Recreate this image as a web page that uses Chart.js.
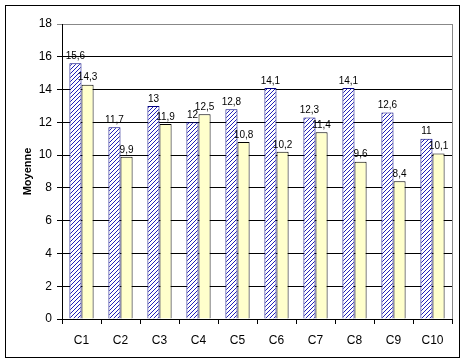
<!DOCTYPE html>
<html lang="fr">
<head>
<meta charset="UTF-8">
<title>Moyenne par classe</title>
<script src="https://cdn.jsdelivr.net/npm/chart.js"></script>
<style>
    html, body { margin: 0; padding: 0; background: #fff; }
    .wrap { width: 465px; height: 362px; position: relative; }
</style>
</head>
<body>
<div class="wrap"><canvas id="chart" width="465" height="362"></canvas></div>
<script>
const categories = ['C1', 'C2', 'C3', 'C4', 'C5', 'C6', 'C7', 'C8', 'C9', 'C10'];
const seriesA = [15.6, 11.7, 13, 12, 12.8, 14.1, 12.3, 14.1, 12.6, 11];
const seriesB = [14.3, 9.9, 11.9, 12.5, 10.8, 10.2, 11.4, 9.6, 8.4, 10.1];
const yTicks = [0, 2, 4, 6, 8, 10, 12, 14, 16, 18];

// hatch pattern for the first series
function makeHatch() {
    const c = document.createElement('canvas');
    c.width = 4; c.height = 4;
    const g = c.getContext('2d');
    g.fillStyle = '#fff';
    g.fillRect(0, 0, 4, 4);
    g.fillStyle = '#2222b8';
    // pixel diagonal "/"
    for (let i = 0; i < 4; i++) g.fillRect(i, 3 - i, 1, 1);
    return g.createPattern(c, 'repeat');
}

const fmt = v => String(v).replace('.', ',');

const frame = {
    id: 'frame',
    beforeDraw(chart) {
        const ctx = chart.ctx;
        ctx.save();
        ctx.strokeStyle = '#000';
        ctx.lineWidth = 1;
        ctx.strokeRect(5.5, 5.5, 454, 352);
        ctx.restore();
    },
    afterDraw(chart) {
        const ctx = chart.ctx, a = chart.chartArea;
        ctx.save();
        ctx.strokeStyle = '#888';
        ctx.lineWidth = 1;
        ctx.beginPath();
        ctx.moveTo(Math.round(a.right) + 0.5, a.top);
        ctx.lineTo(Math.round(a.right) + 0.5, a.bottom);
        ctx.stroke();
        // value labels
        ctx.fillStyle = '#000';
        ctx.font = '10px "Liberation Sans", Arial, sans-serif';
        ctx.textAlign = 'center';
        ctx.textBaseline = 'bottom';
        chart.data.datasets.forEach((ds, di) => {
            chart.getDatasetMeta(di).data.forEach((bar, i) => {
                ctx.fillText(fmt(ds.data[i]), bar.x, bar.y - 2);
            });
        });
        ctx.restore();
    }
};

new Chart(document.getElementById('chart').getContext('2d'), {
    type: 'bar',
    data: {
        labels: categories,
        datasets: [
            { data: seriesA, backgroundColor: makeHatch(), borderColor: '#000080', borderWidth: 1, borderSkipped: 'bottom' },
            { data: seriesB, backgroundColor: '#ffffcc', borderColor: '#000', borderWidth: 1, borderSkipped: 'bottom' }
        ]
    },
    options: {
        responsive: false,
        animation: false,
        layout: { padding: { left: 17, right: 13, top: 24, bottom: 5 } },
        plugins: { legend: { display: false }, tooltip: { enabled: false } },
        datasets: { bar: { categoryPercentage: 0.62, barPercentage: 1 } },
        scales: {
            x: {
                grid: { offset: true, drawOnChartArea: false, drawTicks: true, tickLength: 5, color: '#000' },
                border: { color: '#000' },
                ticks: { color: '#000', padding: 9, font: { family: '"Liberation Sans", Arial', size: 12 } },
                afterFit: s => { s.height = 38; }
            },
            y: {
                min: 0, max: 18,
                afterBuildTicks: s => { s.ticks = yTicks.map(v => ({ value: v })); },
                grid: { color: ctx => ctx.tick && ctx.tick.value === 18 ? '#888' : '#000', tickLength: 5 },
                border: { color: '#000' },
                ticks: { color: '#000', padding: 5, font: { family: '"Liberation Sans", Arial', size: 12 } },
                title: { display: true, text: 'Moyenne', color: '#000', padding: { top: 4, bottom: 4 },
                         font: { family: '"Liberation Sans", Arial', size: 11, weight: 'bold' } },
                afterFit: s => { s.width = 45; }
            }
        }
    },
    plugins: [frame]
});
</script>
</body>
</html>
